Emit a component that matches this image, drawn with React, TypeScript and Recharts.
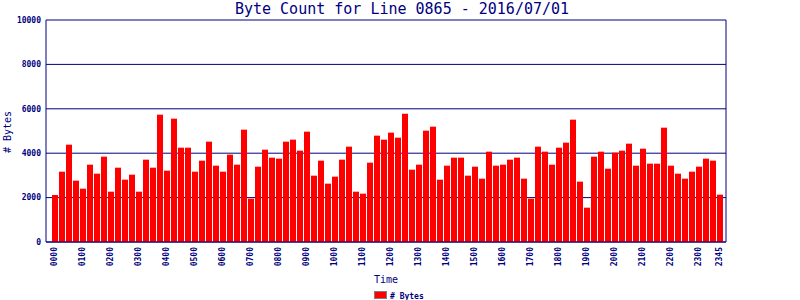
import { Bar, BarChart, CartesianGrid, XAxis, YAxis } from "recharts";

const NAVY = "#000080";
const MONO = "'DejaVu Sans Mono', monospace";

// one slot every 15 minutes, 0000 .. 2345
const times: string[] = [];
for (let h = 0; h < 24; h++) {
  for (const m of ["00", "15", "30", "45"]) {
    times.push(String(h).padStart(2, "0") + m);
  }
}

const bytes = [
  2117, 3168, 4384, 2763, 2402, 3483, 3078, 3844, 2267, 3348, 2808, 3033,
  2267, 3709, 3348, 5736, 3213, 5556, 4249, 4249, 3168, 3664, 4520, 3438,
  3168, 3934, 3483, 5060, 1952, 3393, 4159, 3799, 3754, 4520, 4610, 4114,
  4970, 2988, 3664, 2628, 2943, 3709, 4294, 2267, 2177, 3574, 4790, 4610,
  4925, 4700, 5781, 3258, 3483, 5015, 5195, 2808, 3438, 3799, 3799, 2988,
  3393, 2853, 4069, 3438, 3483, 3709, 3799, 2853, 1952, 4294, 4069, 3483,
  4249, 4475, 5511, 2718, 1547, 3844, 4069, 3303, 4024, 4114, 4430, 3438,
  4204, 3529, 3529, 5150, 3438, 3078, 2853, 3168, 3393, 3754, 3664, 2132,
];

const xTicks = [
  "0000", "0100", "0200", "0300", "0400", "0500", "0600", "0700", "0800",
  "0900", "1000", "1100", "1200", "1300", "1400", "1500", "1600", "1700",
  "1800", "1900", "2000", "2100", "2200", "2300", "2345",
];
const yTicks = [0, 2000, 4000, 6000, 8000, 10000];

const data = times.map((t, i) => ({ time: t, bytes: bytes[i] }));

function TimeTick({ x, y, payload }: any) {
  return (
    <text
      x={x}
      y={y}
      transform={`rotate(-90 ${x} ${y})`}
      textAnchor="end"
      dy="0.35em"
      fontSize={8}
      fontWeight="bold"
      fontFamily={MONO}
      fill={NAVY}
    >
      {payload.value}
    </text>
  );
}

export default function App() {
  return (
    <div style={{ position: "absolute", left: 0, top: 0, width: 800, height: 300 }}>
      <BarChart
        width={800}
        height={300}
        data={data}
        margin={{ top: 20, right: 73, left: 0, bottom: 0 }}
      >
        <CartesianGrid yAxisId="left" vertical={false} stroke={NAVY} strokeOpacity={1} />
        <XAxis
          dataKey="time"
          ticks={xTicks}
          interval={0}
          height={58}
          padding={{ left: 5, right: 3 }}
          tickLine={false}
          tickSize={0}
          tickMargin={5}
          axisLine={{ stroke: NAVY }}
          tick={<TimeTick />}
        />
        <YAxis
          yAxisId="left"
          width={46}
          domain={[0, 10000]}
          ticks={yTicks}
          tickLine={false}
          tickSize={0}
          tickMargin={5}
          axisLine={{ stroke: NAVY }}
          tick={{ fontSize: 8, fontWeight: "bold", fontFamily: MONO, fill: NAVY }}
        />
        <YAxis
          yAxisId="right"
          orientation="right"
          width={1}
          domain={[0, 10000]}
          tick={false}
          tickLine={false}
          axisLine={{ stroke: NAVY }}
        />
        <Bar
          yAxisId="left"
          dataKey="bytes"
          fill="#ff0000"
          barSize={6}
          isAnimationActive={false}
        />
      </BarChart>
      <svg
        width={800}
        height={300}
        style={{ position: "absolute", left: 0, top: 0, pointerEvents: "none" }}
      >
        <text x={402} y={14} textAnchor="middle" fontSize={15} fontFamily={MONO} fill={NAVY}>
          Byte Count for Line 0865 - 2016/07/01
        </text>
        <text
          x={11}
          y={132}
          transform="rotate(-90 11 132)"
          textAnchor="middle"
          fontSize={10}
          fontFamily={MONO}
          fill={NAVY}
        >
          # Bytes
        </text>
        <text x={386} y={283} textAnchor="middle" fontSize={10} fontFamily={MONO} fill={NAVY}>
          Time
        </text>
        <rect x={374.5} y={291.5} width={12} height={7} fill="#ff0000" stroke="#808080" />
        <text x={390} y={299} fontSize={8} fontWeight="bold" fontFamily={MONO} fill={NAVY}>
          # Bytes
        </text>
      </svg>
    </div>
  );
}
